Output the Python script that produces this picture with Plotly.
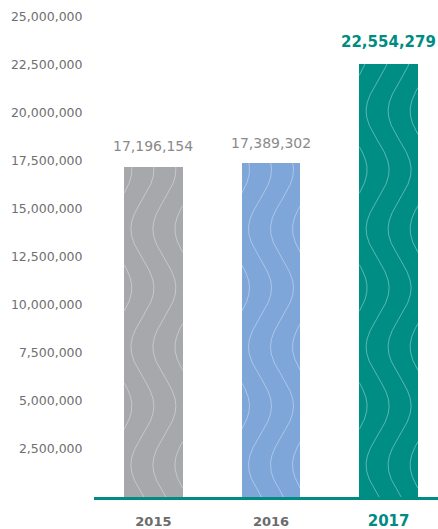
import numpy as np
import plotly.graph_objects as go

# ---- data ----
years = ["2015", "2016", "2017"]
values = [17196154, 17389302, 22554279]
bar_colors = ["#A7A8AB", "#7EA6D9", "#008E84"]
y_tickvals = [2500000, 5000000, 7500000, 10000000, 12500000, 15000000,
              17500000, 20000000, 22500000, 25000000]

TEAL = "#008C82"
FONT = "DejaVu Sans"

W, H = 438, 529
M_L, M_R, M_T, M_B = 94, 0, 17, 32
X_RANGE = [-0.505, 2.42]
Y_RANGE = [0, 25000000]

fig = go.Figure()

fig.add_trace(go.Bar(
    x=list(range(len(years))), y=values, width=0.5,
    marker=dict(color=bar_colors, line=dict(width=0)),
    hoverinfo="skip", showlegend=False,
))

# ---- decorative wavy stripes inside each bar (style only) ----
px_per_x = (W - M_L - M_R) / (X_RANGE[1] - X_RANGE[0])
val_per_px = (Y_RANGE[1] - Y_RANGE[0]) / (H - M_T - M_B)
amp = 11.5 / px_per_x
period = 118 * val_per_px
phase0 = 32 * val_per_px
offsets = [o / px_per_x for o in (-33, -11, 11, 33)]
half_w = 0.25
for i, v in enumerate(values):
    xs, ys = [], []
    yy = np.linspace(0, v, 900)
    for off in offsets:
        xx = i + off - amp * np.cos(2 * np.pi * (yy - phase0) / period)
        xx = np.where(np.abs(xx - i) <= half_w, xx, np.nan)
        xs.extend(xx.tolist() + [None])
        ys.extend(yy.tolist() + [None])
    fig.add_trace(go.Scatter(
        x=xs, y=ys, mode="lines",
        line=dict(color="rgba(255,255,255,0.36)", width=1),
        hoverinfo="skip", showlegend=False, connectgaps=False,
    ))

# ---- value labels ----
for i, v in enumerate(values):
    last = i == len(values) - 1
    fig.add_annotation(
        x=i, y=v, xref="x", yref="y",
        text=(f"<b>{v:,}</b>" if last else f"{v:,}"),
        showarrow=False, yanchor="bottom", xanchor="center",
        yshift=(11 if last else 10.5),
        font=dict(family=FONT, size=(15 if last else 14),
                  color=(TEAL if last else "#8A8A8A")),
    )

tick_text = []
for i, y in enumerate(years):
    if i == len(years) - 1:
        tick_text.append(f"<span style='font-size:15px;color:{TEAL}'><b>{y}</b></span>")
    else:
        tick_text.append(f"<b>{y}</b>")

fig.update_layout(
    width=W, height=H,
    margin=dict(l=M_L, r=M_R, t=M_T, b=M_B, pad=0),
    plot_bgcolor="white", paper_bgcolor="white",
    font=dict(family=FONT),
    xaxis=dict(
        range=X_RANGE, tickvals=list(range(len(years))), ticktext=tick_text,
        showgrid=False, zeroline=False, showline=True,
        linecolor=TEAL, linewidth=3,
        ticks="outside", ticklen=10, tickcolor="rgba(0,0,0,0)",
        tickfont=dict(family=FONT, size=13, color="#6B6B6B"),
        fixedrange=True,
    ),
    yaxis=dict(
        range=Y_RANGE, tickvals=y_tickvals,
        ticktext=[f"{t:,}" for t in y_tickvals],
        showgrid=False, zeroline=False, showline=False,
        ticks="outside", ticklen=8, tickcolor="rgba(0,0,0,0)",
        tickfont=dict(family=FONT, size=12.5, color="#6F6F6F"),
        fixedrange=True,
    ),
    bargap=0,
)

fig.write_html(
    "out.html",
    config={"displayModeBar": False},
    post_script="document.body.style.margin='0';document.body.style.overflow='hidden';",
)
